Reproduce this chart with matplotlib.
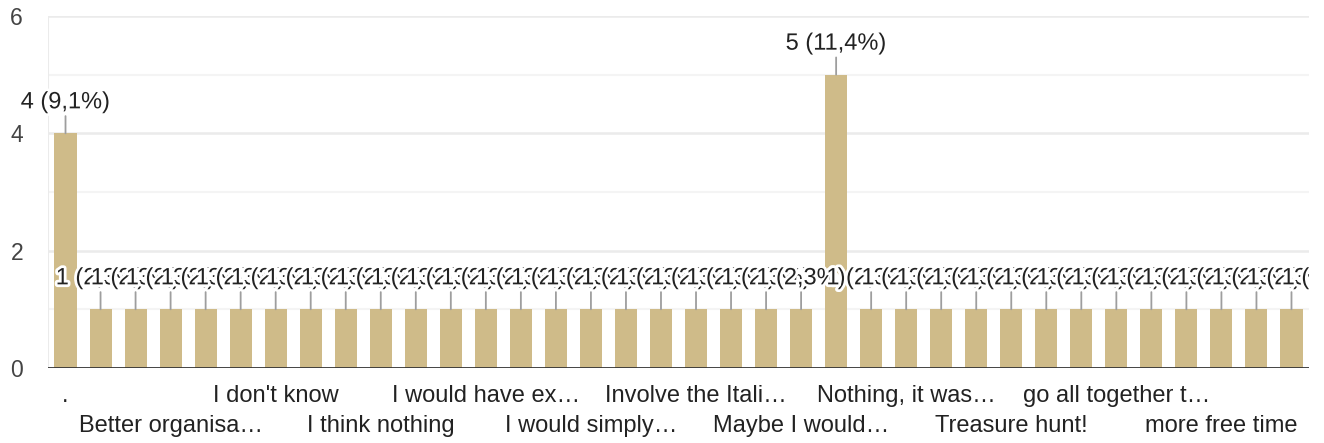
import matplotlib
matplotlib.use("Agg")
import matplotlib.pyplot as plt
import matplotlib.patheffects as pe
from matplotlib.transforms import Bbox, TransformedBbox

plt.rcParams["font.family"] = ["Liberation Sans", "DejaVu Sans"]

# responses per answer; the 37th answer sits just past the visible edge
counts = [4] + [1] * 21 + [5] + [1] * 14
visible_bars = 36
# only every third answer gets a visible axis label
tick_labels = [
    ".", "Better organisa…", "I don't know", "I think nothing",
    "I would have ex…", "I would simply…", "Involve the Itali…", "Maybe I would…",
    "Nothing, it was…", "Treasure hunt!", "go all together t…", "more free time",
]
tick_positions = list(range(0, visible_bars, 3))
y_ticks = [0, 2, 4, 6]

BAR = "#cfbb89"
W, H = 1324, 443

fig = plt.figure(figsize=(W / 100, H / 100), dpi=100)
left, right = 48 / W, 1309 / W
bottom, top = (H - 368) / H, (H - 16) / H
ax = fig.add_axes([left, bottom, right - left, top - bottom])

total = sum(counts)
x = list(range(len(counts)))
ax.bar(x, counts, width=0.63, color=BAR, zorder=2)

ax.set_xlim(-0.5, visible_bars - 0.5)
ax.set_ylim(0, 6)

for y in [1, 3, 5]:
    ax.axhline(y, color="#f4f4f4", lw=1.5, zorder=0)
for y in [2, 4, 6]:
    ax.axhline(y, color="#ebebeb", lw=1.8, zorder=0)
ax.axhline(0, color="#333333", lw=2, zorder=4)
ax.axvline(-0.5, color="#ebebeb", lw=1.5, zorder=0)

for s in ax.spines.values():
    s.set_visible(False)
ax.set_xticks([])
ax.set_yticks(y_ticks)
ax.set_yticklabels([str(t) for t in y_ticks])
ax.tick_params(axis="y", length=0, pad=18, labelsize=16.5, labelcolor="#444444")

clip = TransformedBbox(Bbox([[0, 0], [right, 1]]), fig.transFigure)
halo = [pe.withStroke(linewidth=4, foreground="white")]
for i, c in enumerate(counts):
    pct = f"{100 * c / total:.1f}".replace(".", ",")
    a = ax.annotate(
        f"{c} ({pct}%)", xy=(i, c), xytext=(0, 18), textcoords="offset points",
        ha="center", va="baseline", fontsize=17, color="#222222",
        arrowprops=dict(arrowstyle="-", color="#9e9e9e", lw=1.3, shrinkA=0, shrinkB=0),
        zorder=5, path_effects=halo, annotation_clip=False,
    )
    a.set_clip_on(True)
    a.set_clip_box(clip)
    if a.arrow_patch is not None:
        a.arrow_patch.set_clip_box(clip)

for k, (pos, lbl) in enumerate(zip(tick_positions, tick_labels)):
    dy = -24.5 if k % 2 == 0 else -46
    ax.annotate(lbl, xy=(pos, 0), xytext=(0, dy), textcoords="offset points",
                ha="center", va="baseline", fontsize=17, color="#222222",
                annotation_clip=False)

fig.savefig("out.png", dpi=100)
